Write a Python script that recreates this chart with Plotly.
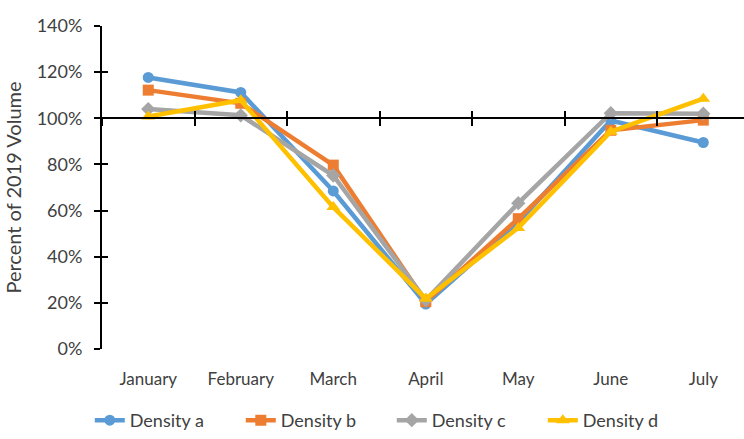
import plotly.graph_objects as go

months = ["January", "February", "March", "April", "May", "June", "July"]
density_a = [1.177, 1.112, 0.685, 0.195, 0.55, 0.99, 0.895]
density_b = [1.122, 1.065, 0.797, 0.205, 0.565, 0.948, 0.992]
density_c = [1.040, 1.013, 0.752, 0.212, 0.632, 1.022, 1.020]
density_d = [1.008, 1.078, 0.615, 0.218, 0.525, 0.942, 1.085]

series = [
    ("Density a", density_a, "#5B9BD5", "circle", 11),
    ("Density b", density_b, "#ED7D31", "square", 11),
    ("Density c", density_c, "#A5A5A5", "diamond", 11),
    ("Density d", density_d, "#FFC000", "triangle-up", 12),
]

FONT = "Lato, Open Sans, sans-serif"
TXT = "#404040"

fig = go.Figure()
for name, vals, color, sym, size in series:
    fig.add_trace(go.Scatter(
        x=months, y=vals, name=name, mode="lines+markers",
        line=dict(color=color, width=4.5),
        marker=dict(color=color, symbol=sym, size=size),
    ))

# hidden traces that carry the category axis drawn across at 100%
fig.add_trace(go.Scatter(x=months, y=[None] * 7, xaxis="x2", showlegend=False,
                         hoverinfo="skip"))
fig.add_trace(go.Scatter(x=months, y=[None] * 7, xaxis="x3", showlegend=False,
                         hoverinfo="skip"))
# hidden trace for the inner half of the y ticks
fig.add_trace(go.Scatter(x=months, y=[None] * 7, yaxis="y2", showlegend=False,
                         hoverinfo="skip"))

y_max = 1.4
cross = 1.0 / y_max
x_range = [-0.5, 6.44]

fig.update_layout(
    width=744, height=439,
    margin=dict(l=102, r=0, t=26, b=86),
    paper_bgcolor="white", plot_bgcolor="white",
    font=dict(family=FONT, size=18, color=TXT),
    xaxis=dict(
        type="category", range=x_range, showline=False, showgrid=False,
        zeroline=False, ticks="", ticklabelstandoff=18,
        tickfont=dict(family=FONT, size=17, color=TXT),
    ),
    xaxis2=dict(
        type="category", overlaying="x", matches="x", anchor="free",
        position=cross, showline=True, linecolor="black", linewidth=2,
        ticks="outside", ticklen=7, tickwidth=2, tickcolor="black",
        tickson="boundaries", showticklabels=False, showgrid=False,
    ),
    xaxis3=dict(
        type="category", overlaying="x", matches="x", anchor="free",
        position=cross, showline=False,
        ticks="inside", ticklen=7, tickwidth=2, tickcolor="black",
        tickson="boundaries", showticklabels=False, showgrid=False,
        side="bottom",
    ),
    yaxis=dict(
        range=[0, y_max], dtick=0.2, tickformat=".0%",
        showline=True, linecolor="black", linewidth=2,
        ticks="outside", ticklen=6, tickwidth=2, tickcolor="black",
        ticklabelstandoff=8,
        showgrid=False, zeroline=False,
        title=dict(text="Percent of 2019 Volume", standoff=10,
                   font=dict(family=FONT, size=20, color=TXT)),
        tickfont=dict(family=FONT, size=18, color=TXT),
    ),
    yaxis2=dict(
        range=[0, y_max], dtick=0.2, overlaying="y", anchor="x",
        side="left", showline=False, ticks="inside", ticklen=6, tickwidth=2,
        tickcolor="black", showticklabels=False, showgrid=False,
        zeroline=False,
    ),
    legend=dict(
        orientation="h", x=-0.019, xanchor="left", y=-0.165, yanchor="top",
        font=dict(family=FONT, size=18, color=TXT),
        entrywidth=106, itemwidth=30, traceorder="normal",
    ),
    showlegend=True,
)

fig.write_html("out.html")
